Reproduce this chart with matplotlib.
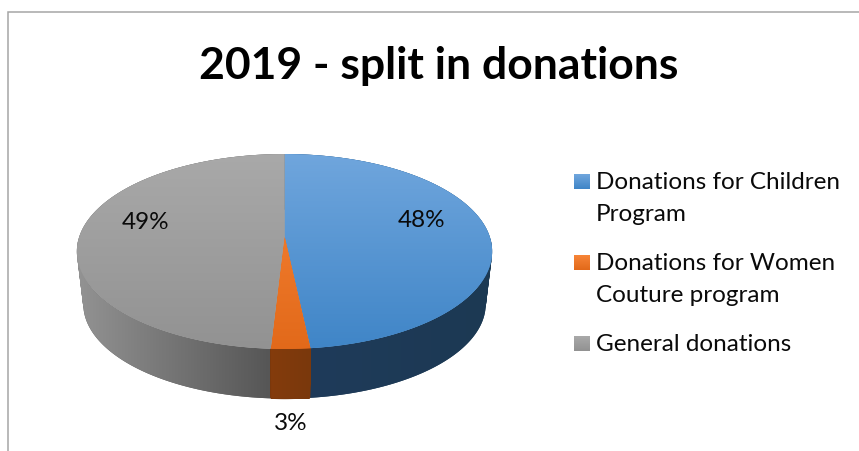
import numpy as np
import matplotlib
matplotlib.use("Agg")
import matplotlib.pyplot as plt
from matplotlib.path import Path
from matplotlib.patches import PathPatch
from matplotlib.colors import LinearSegmentedColormap as LSC

title = "2019 - split in donations"
categories = ["Donations for Children\nProgram", "Donations for Women\nCouture program", "General donations"]
values = [48.3, 2.6, 49.1]

FONT = "Lato"
W, H = 859, 452
top_colors = [("#70a6dd", "#3f85c7"), ("#f78537", "#e2691a"), ("#a9a9a9", "#929292")]
side_colors = [("#1f3b5a", "#1c3953"), ("#843c0d", "#7a380c"), ("#939393", "#565656")]
side_extent = [(310, 492), (270, 310), (77, 270)]
side_z = [2.0, 2.5, 1.6]
legend_y = [181, 262, 343]
label_xy = [(422, 221), (291, 424), (146, 223)]

# perspective of the pie's disc, in pixels
CX, CY, K, A, B = 284.5, 237, 0.159, 95, 205
VY, S = 1950, 0.969


def project(u, v):
    w = 1 + K * v
    return CX + B * u / w, CY - A * v / w


def drop(x, y):
    return CX + S * (x - CX), VY + S * (y - VY)


def sweep_path(x, y, xb, yb):
    """The wall swept between the upper and lower rim, as same-wound quads."""
    verts, codes = [], []
    for j in range(len(x) - 1):
        q = np.array([[x[j], y[j]], [x[j + 1], y[j + 1]], [xb[j + 1], yb[j + 1]], [xb[j], yb[j]]])
        area = np.sum(q[:, 0] * np.roll(q[:, 1], -1) - np.roll(q[:, 0], -1) * q[:, 1])
        if area < 0:
            q = q[::-1]
        verts += list(q) + [q[0]]
        codes += [Path.MOVETO, Path.LINETO, Path.LINETO, Path.LINETO, Path.CLOSEPOLY]
    return Path(np.array(verts), codes)


fig = plt.figure(figsize=(W / 100, H / 100), dpi=100)
ax = fig.add_axes([0, 0, 1, 1])
wedges, _, autos = ax.pie(values, colors=[c[0] for c in top_colors], startangle=90,
                          counterclock=False, autopct="%.0f%%")
ax.set_aspect("auto")
ax.set_xlim(0, W)
ax.set_ylim(H, 0)
ax.axis("off")


def gradient(path, c0, c1, extent, horizontal, z, edge=0.0):
    patch = PathPatch(path, facecolor=c1, edgecolor=c1 if edge else "none", lw=edge, zorder=z)
    ax.add_patch(patch)
    cmap = LSC.from_list("g", [c0, c1])
    ramp = np.linspace(0, 1, 256)
    data = ramp[None, :] if horizontal else ramp[:, None]
    im = ax.imshow(data, cmap=cmap, extent=extent, aspect="auto", zorder=z + 0.1,
                   interpolation="bilinear", origin="upper")
    im.set_clip_path(patch)


for i, wedge in enumerate(wedges):
    wedge.set_visible(False)
    t = np.radians(np.linspace(wedge.theta1, wedge.theta2, 200))
    x, y = project(np.cos(t), np.sin(t))
    xb, yb = drop(x, y)
    l, r = side_extent[i]
    gradient(sweep_path(x, y, xb, yb), side_colors[i][0], side_colors[i][1], (l, r, 400, 240),
             True, side_z[i], edge=0.8 if i == 1 else 0.0)
    cx0, cy0 = project(0.0, 0.0)
    top = Path(np.column_stack([np.r_[cx0, x], np.r_[cy0, y]]))
    gradient(top, top_colors[i][0], top_colors[i][1], (75, 495, 351, 154), False, 3 + 0.2 * i)

ax.set_xlim(0, W)
ax.set_ylim(H, 0)

for txt, (lx, ly) in zip(autos, label_xy):
    txt.set_position((lx, ly))
    txt.set_ha("center")
    txt.set_va("center")
    txt.set_fontsize(17.5)
    txt.set_fontfamily(FONT)
    txt.set_color("#0a0a0a")
    txt.set_zorder(6)

ax.text(438.5, 66, title, ha="center", va="center", fontsize=32, fontweight="bold",
        family=FONT, color="#000000")

for name, ly, (c0, c1) in zip(categories, legend_y, top_colors):
    ax.imshow(np.linspace(0, 1, 32)[:, None], cmap=LSC.from_list("l", [c0, c1]),
              extent=(574, 590, ly + 9, ly - 6), aspect="auto", zorder=4)
    ax.text(596, ly - 9, name, ha="left", va="top", fontsize=17.5, family=FONT,
            color="#0a0a0a", linespacing=1.67)

ax.set_xlim(0, W)
ax.set_ylim(H, 0)
ax.plot([8, 8, W], [H, 13, 13], color="#a6a6a6", lw=1.1, zorder=5, solid_joinstyle="miter")
fig.savefig("out.png", dpi=100)
